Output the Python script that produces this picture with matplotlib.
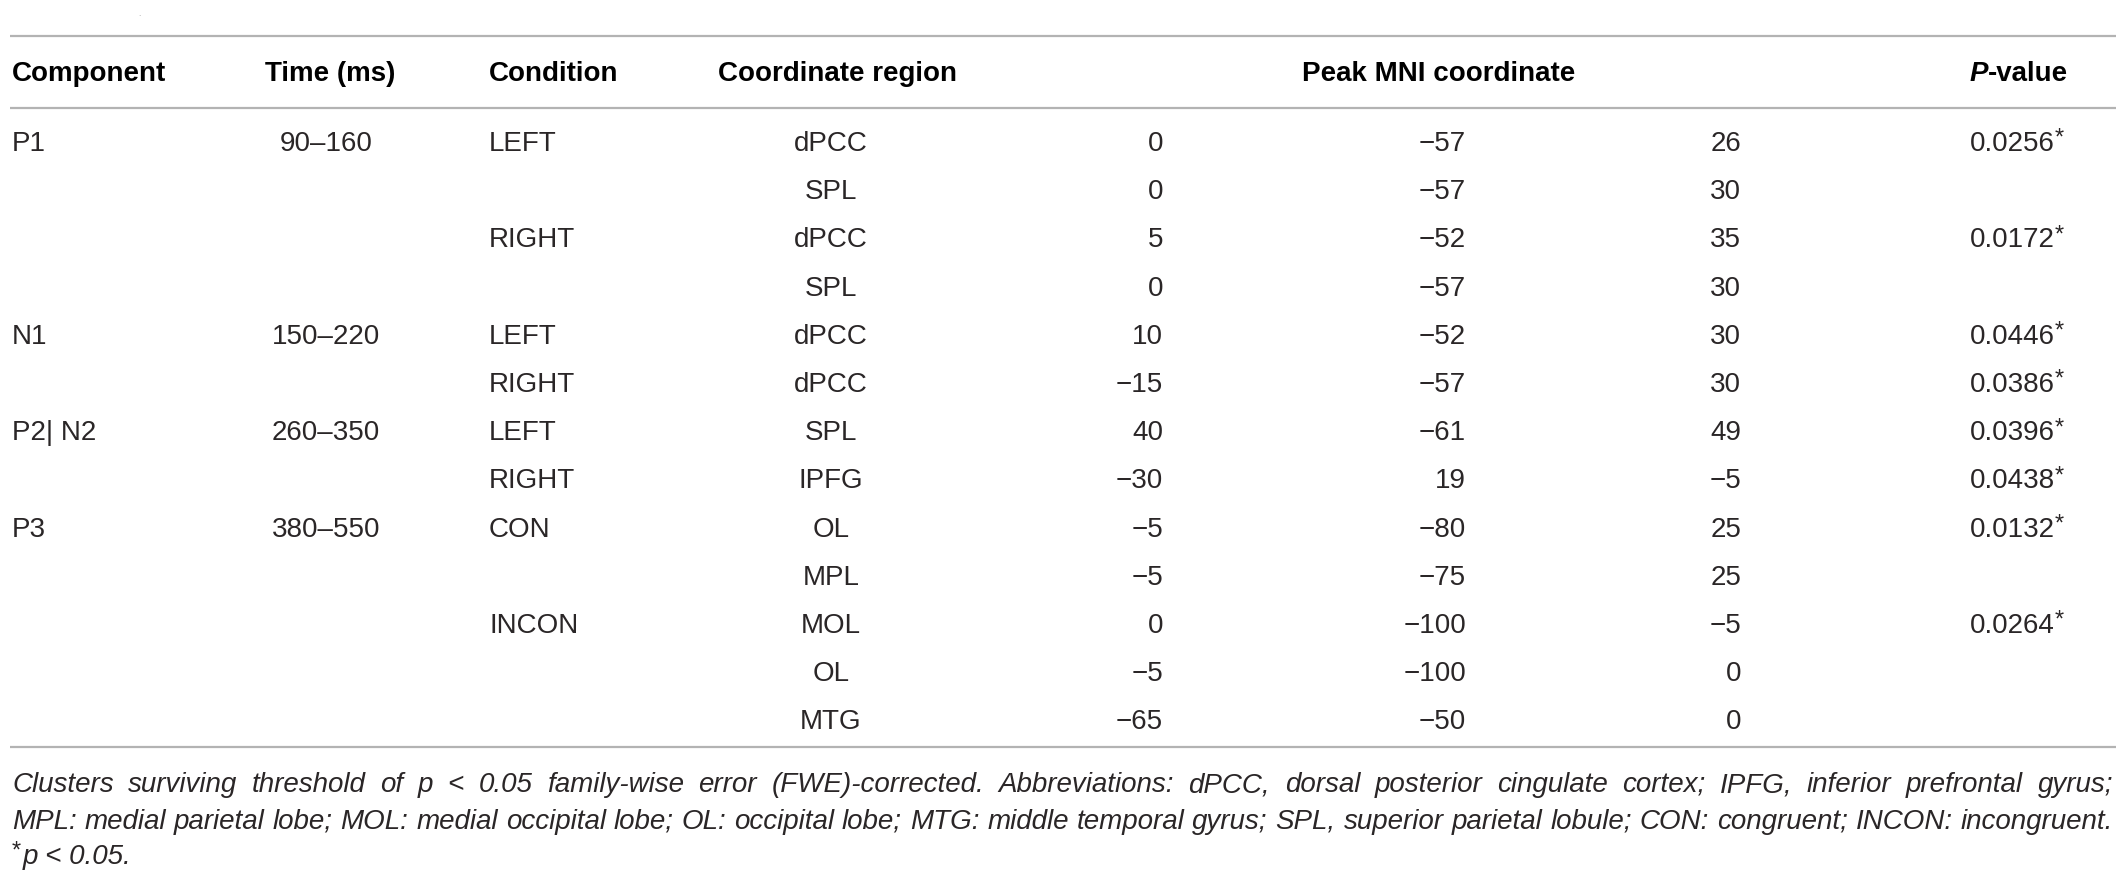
import matplotlib
matplotlib.use("Agg")
import matplotlib.pyplot as plt

# table content
components = ["P1", "", "", "", "N1", "", "P2| N2", "", "P3", "", "", "", ""]
times = ["90–160", "", "", "", "150–220", "", "260–350", "", "380–550", "", "", "", ""]
conditions = ["LEFT", "", "RIGHT", "", "LEFT", "RIGHT", "LEFT", "RIGHT", "CON", "", "INCON", "", ""]
regions = ["dPCC", "SPL", "dPCC", "SPL", "dPCC", "dPCC", "SPL", "IPFG", "OL", "MPL", "MOL", "OL", "MTG"]
mni_x = [0, 0, 5, 0, 10, -15, 40, -30, -5, -5, 0, -5, -65]
mni_y = [-57, -57, -52, -57, -52, -57, -61, 19, -80, -75, -100, -100, -50]
mni_z = [26, 30, 35, 30, 30, 30, 49, -5, 25, 25, -5, 0, 0]
pvals = ["0.0256", "", "0.0172", "", "0.0446", "0.0386", "0.0396", "0.0438", "0.0132", "", "0.0264", "", ""]

headers = ["Component", "Time (ms)", "Condition", "Coordinate region", "Peak MNI coordinate", "-value"]

caption = [
    "Clusters surviving threshold of p < 0.05 family-wise error (FWE)-corrected. Abbreviations: dPCC, "
    "dorsal posterior cingulate cortex; IPFG, inferior prefrontal gyrus;",
    "MPL: medial parietal lobe; MOL: medial occipital lobe; OL: occipital lobe; MTG: middle temporal gyrus; "
    "SPL, superior parietal lobule; CON: congruent; INCON: incongruent.",
]
footnote = "p < 0.05."

FONT = ["Liberation Sans", "DejaVu Sans"]
W, H = 2128, 875
FS = 20
BODY = "#2a2627"
RULE = "#b3b3b3"

fig = plt.figure(figsize=(W / 100, H / 100), dpi=100)
ax = fig.add_axes([0, 0, 1, 1])
ax.set_xlim(0, W)
ax.set_ylim(H, 0)
ax.axis("off")
renderer = fig.canvas.get_renderer()


def fmt(v):
    return str(v).replace("-", "\u2212")


def width_of(t):
    return t.get_window_extent(renderer).width


# rules
for y in (36, 108, 747):
    ax.plot([10, 2116], [y, y], color=RULE, lw=1.6, solid_capstyle="butt")

# stray dot at top left
ax.text(139, 18, ".", fontsize=6, color="#999999", ha="center", va="bottom", family=FONT)

# header
hy = 74
hkw = dict(fontsize=FS, fontweight="bold", color="black", va="center", family=FONT)
ax.text(12, hy, headers[0], ha="left", **hkw)
ax.text(330, hy, headers[1], ha="center", **hkw)
ax.text(489, hy, headers[2], ha="left", **hkw)
ax.text(837, hy, headers[3], ha="center", **hkw)
ax.text(1439, hy, headers[4], ha="center", **hkw)
tv = ax.text(2068, hy, headers[5], ha="right", **hkw)
ax.text(2068 - width_of(tv), hy, "P", ha="right", fontstyle="italic", **hkw)

# body rows
y0, dy = 144, 48.2
bkw = dict(fontsize=FS, color=BODY, va="center", family=FONT)
for i in range(len(regions)):
    y = y0 + i * dy
    ax.text(12, y, components[i], ha="left", **bkw)
    ax.text(326, y, times[i], ha="center", **bkw)
    ax.text(489, y, conditions[i], ha="left", **bkw)
    ax.text(831, y, regions[i], ha="center", **bkw)
    ax.text(1163, y, fmt(mni_x[i]), ha="right", **bkw)
    ax.text(1466, y, fmt(mni_y[i]), ha="right", **bkw)
    ax.text(1741, y, fmt(mni_z[i]), ha="right", **bkw)
    if pvals[i]:
        ax.text(2055, y, pvals[i], ha="right", **bkw)
        ax.text(2055, y - 5, "*", ha="left", fontsize=17, color=BODY, va="center", family=FONT)

# caption, justified across the full width
ckw = dict(fontsize=FS, color=BODY, va="center", fontstyle="italic", family=FONT)
left, right = 12, 2113
for k, line in enumerate(caption):
    y = 785 + k * 37
    words = line.split(" ")
    texts = [ax.text(0, y, w, ha="left", **ckw) for w in words]
    widths = [width_of(t) for t in texts]
    gap = (right - left - sum(widths)) / (len(words) - 1)
    x = left
    for t, w in zip(texts, widths):
        t.set_x(x)
        x += w + gap

fy = 857
ax.text(12, fy - 5, "*", ha="left", fontsize=17, color=BODY, va="center", family=FONT)
ax.text(23, fy, footnote, ha="left", **ckw)

fig.savefig("out.png", dpi=100)
